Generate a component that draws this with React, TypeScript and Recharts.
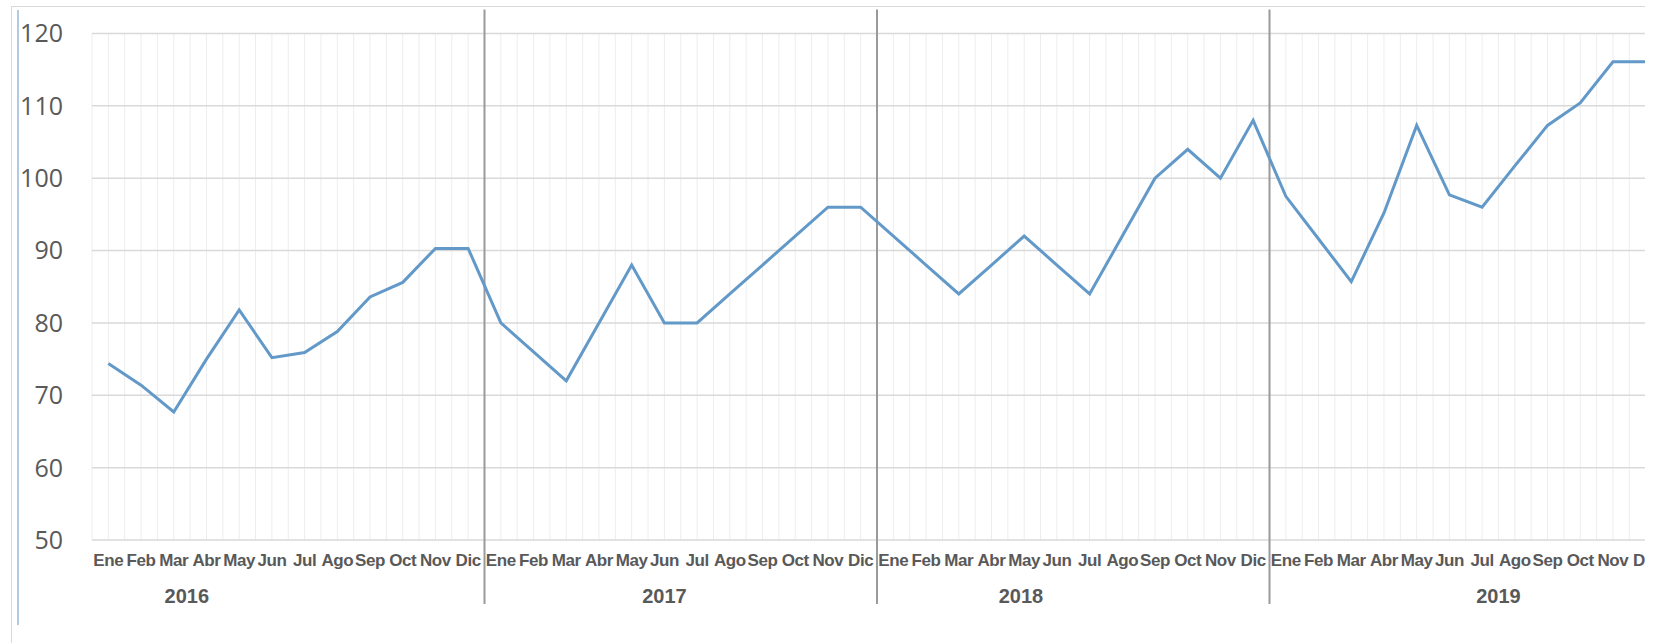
import { ComposedChart, Line, XAxis, YAxis, CartesianGrid, ReferenceLine } from 'recharts'

const MONTHS = ['Ene', 'Feb', 'Mar', 'Abr', 'May', 'Jun', 'Jul', 'Ago', 'Sep', 'Oct', 'Nov', 'Dic']
const YEARS = ['2016', '2017', '2018', '2019']

const values2016 = [74.4, 71.4, 67.7, 75.0, 81.8, 75.2, 75.9, 78.8, 83.6, 85.6, 90.3, 90.3]
const values2017 = [80.0, 76.0, 72.0, 80.0, 88.0, 80.0, 80.0, 84.0, 88.0, 92.0, 96.0, 96.0]
const values2018 = [92.0, 88.0, 84.0, 88.0, 92.0, 88.0, 84.0, 92.0, 100.0, 104.0, 100.0, 108.0]
const values2019 = [97.5, 91.6, 85.7, 95.2, 107.3, 97.7, 96.0, 101.7, 107.3, 110.4, 116.1, 116.1]

const Y_TICKS = [50, 60, 70, 80, 90, 100, 110, 120]

const seriesByYear = [values2016, values2017, values2018, values2019]

const data = YEARS.flatMap((year, yi) =>
  MONTHS.map((month, mi) => ({
    key: `${month}-${year}`,
    month,
    idx: yi * 12 + mi + 0.5,
    value: seriesByYear[yi][mi],
  }))
)

// year labels sit a little off-centre in the original, nudge in month units
const YEAR_NUDGE = [-3.1, -0.5, -1.6, 1.0]
const yearTicks = YEARS.map((_, i) => i * 12 + 6 + YEAR_NUDGE[i])
const separators = YEARS.slice(1).map((_, i) => (i + 1) * 12)

const TEXT = '#595959'

function Separator(p: any) {
  const top = Math.min(p.y1, p.y2)
  const bottom = Math.max(p.y1, p.y2)
  return <line x1={p.x1} x2={p.x2} y1={top - 24} y2={bottom + 64} stroke="#9a9a9a" strokeWidth={2} />
}

export default function App() {
  return (
    <div style={{ position: 'fixed', left: 0, top: 0, width: 1657, height: 643, background: '#fff', overflow: 'hidden' }}>
      <div style={{ position: 'absolute', left: 0, top: 0, width: 1645, height: 643, overflow: 'hidden' }}>
        <div
          style={{
            position: 'absolute', left: 11, top: 6, width: 1700, height: 700,
            borderTop: '1px solid #d9d9d9', borderLeft: '1px solid #d9d9d9',
          }}
        />
        <div style={{ position: 'absolute', left: 17, top: 10, height: 615, borderLeft: '2px solid #b2cbe2' }} />
        <div style={{ position: 'absolute', left: 0, top: 0 }}>
          <ComposedChart width={1680} height={643} data={data} margin={{ top: 33.5, right: 18, left: 0, bottom: 23 }}>
            <CartesianGrid
              horizontal={false}
              stroke="#ededed"
              verticalCoordinatesGenerator={({ offset }: any) =>
                Array.from({ length: 97 }, (_, i) => offset.left + (i * offset.width) / 96)
              }
            />
            <CartesianGrid vertical={false} stroke="#d9d9d9" strokeWidth={1.5} />
            <XAxis
              xAxisId="m"
              dataKey="key"
              scale="band"
              interval={0}
              height={40}
              axisLine={false}
              tickLine={false}
              tickSize={0}
              tickMargin={14}
              tickFormatter={(v: string) => v.split('-')[0]}
              tick={{ fill: TEXT, fontSize: 17, fontWeight: 700, fontFamily: 'Liberation Sans, Arial, sans-serif', letterSpacing: -0.4 }}
            />
            <XAxis
              xAxisId="yr"
              dataKey="idx"
              type="number"
              domain={[0, 48]}
              allowDataOverflow
              ticks={yearTicks}
              interval={0}
              height={40}
              axisLine={false}
              tickLine={false}
              tickSize={0}
              tickMargin={9}
              tickFormatter={(_v: number, i: number) => YEARS[i]}
              tick={{ fill: TEXT, fontSize: 20, fontWeight: 700, fontFamily: 'Liberation Sans, Arial, sans-serif' }}
            />
            <YAxis
              domain={[50, 120]}
              ticks={Y_TICKS}
              width={92}
              axisLine={false}
              tickLine={false}
              tickSize={0}
              tickMargin={29}
              tick={{ fill: TEXT, fontSize: 25, fontFamily: 'Open Sans, sans-serif' }}
            />
            {separators.map((x) => (
              <ReferenceLine key={x} xAxisId="yr" x={x} shape={Separator} />
            ))}
            <Line
              xAxisId="m"
              type="linear"
              dataKey="value"
              stroke="#6299c8"
              strokeWidth={3}
              dot={false}
              isAnimationActive={false}
            />
          </ComposedChart>
        </div>
      </div>
    </div>
  )
}
